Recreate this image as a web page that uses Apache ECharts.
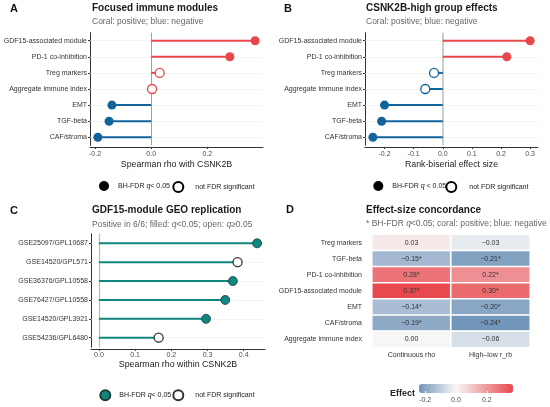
<!DOCTYPE html>
<html><head><meta charset="utf-8">
<script src="https://cdn.jsdelivr.net/npm/echarts@6/dist/echarts.min.js"></script>
<style>html,body{margin:0;padding:0;background:#fff}#c{width:550px;height:407px}</style>
</head><body><div id="c"></div>
<script>
// ---------- data ----------
const modules = ['GDF15-associated module','PD-1 co-inhibition','Treg markers','Aggregate immune index','EMT','TGF-beta','CAF/stroma'];
const rhoA = [0.37, 0.28, 0.03, 0.003, -0.14, -0.15, -0.19];
const sigA = [true, true, false, false, true, true, true];
const rrbB = [0.30, 0.22, -0.03, -0.06, -0.20, -0.21, -0.24];
const sigB = [true, true, false, false, true, true, true];
const geoSets = ['GSE25097/GPL10687','GSE14520/GPL571','GSE36376/GPL10558','GSE76427/GPL10558','GSE14520/GPL3921','GSE54236/GPL6480'];
const rhoC = [0.437, 0.383, 0.370, 0.349, 0.296, 0.165];
const sigC = [true, false, true, true, true, false];
const heatRows = ['Treg markers','TGF-beta','PD-1 co-inhibition','GDF15-associated module','EMT','CAF/stroma','Aggregate immune index'];
const heatCols = ['Continuous rho','High\u2013low r_rb'];
const ticksA = [-0.2, 0, 0.2];
const ticksB = [-0.2, -0.1, 0, 0.1, 0.2, 0.3];
const ticksC = [0, 0.1, 0.2, 0.3, 0.4];
const ticksEffect = [-0.2, 0, 0.2];

// ---------- styles ----------
const FONT = 'Liberation Sans';
const CORAL = '#E8474C', BLUE = '#11639A', TEAL = '#0F877E';
const LOW = [42, 96, 153], MID = [247, 247, 247], HIGH = [232, 73, 78];
const signColor = v => v >= 0 ? CORAL : BLUE;

function ext(vals, withZero) {
  let lo = Math.min(...vals), hi = Math.max(...vals);
  if (withZero) { lo = Math.min(lo, 0); hi = Math.max(hi, 0); }
  const pad = (hi - lo) * 0.05;
  return [lo - pad, hi + pad];
}
const [minA, maxA] = ext(rhoA, true);
const [minB, maxB] = ext(rrbB, true);
const [minC, maxC] = ext(rhoC, true);

// heat data
const heatData = [];
heatRows.forEach((r, ri) => {
  const k = modules.indexOf(r);
  heatData.push({ value: [0, ri, rhoA[k]], sig: sigA[k] });
  heatData.push({ value: [1, ri, rrbB[k]], sig: sigB[k] });
});
const heatVals = heatData.map(d => d.value[2]);
const effMin = Math.min(...heatVals), effMax = Math.max(...heatVals);
const maxAbs = Math.max(Math.abs(effMin), Math.abs(effMax));
function mix(a, b, t) { return 'rgb(' + a.map((x, i) => Math.round(x + (b[i] - x) * t)).join(',') + ')'; }
function grad2(v) { const t = v / maxAbs; return t < 0 ? mix(MID, LOW, -t) : mix(MID, HIGH, t); }
const colorStops = [];
for (let k = 0; k <= 60; k++) colorStops.push(grad2(effMin + (effMax - effMin) * k / 60));

// ---------- builders ----------
function valAxis(gi, min, max, ticks, name, offset, nameGap, margin) {
  return { type: 'value', gridIndex: gi, min, max, offset, splitLine: { show: false },
    axisLine: { show: true, onZero: false, lineStyle: { color: '#333', width: 1 } },
    axisTick: { show: true, customValues: ticks, length: 2, lineStyle: { color: '#333' } },
    axisLabel: { customValues: ticks, fontSize: 7, color: '#4d4d4d', margin, fontFamily: FONT, formatter: v => v.toFixed(1) },
    name, nameLocation: 'middle', nameGap, nameTextStyle: { fontSize: 8.8, color: '#222', fontFamily: FONT } };
}
function catAxis(gi, cats) {
  return { type: 'category', gridIndex: gi, data: cats, inverse: true,
    axisLine: { show: true, onZero: false, lineStyle: { color: '#333', width: 1 } },
    axisTick: { show: true, alignWithLabel: true, length: 2, lineStyle: { color: '#333' } },
    axisLabel: { fontSize: 7, color: '#333', margin: 3, fontFamily: FONT },
    splitLine: { show: false } };
}
function lolli(gi, cats, vals, sigs, o) {
  const guide = { type: 'scatter', xAxisIndex: gi, yAxisIndex: gi, data: [], z: 1, silent: true,
    markLine: { z: 1, silent: true, symbol: 'none', animation: false, label: { show: false },
      data: cats.map((c, i) => ({ yAxis: i, lineStyle: { color: '#EDEDED', width: 0.6, type: 'solid' } }))
        .concat([{ xAxis: 0, lineStyle: { color: o.zeroColor, width: o.zeroWidth, type: 'solid' } }]) } };
  const bar = { type: 'bar', xAxisIndex: gi, yAxisIndex: gi, barWidth: 2, silent: true, z: 6, animation: false,
    data: vals.map(v => ({ value: v, itemStyle: { color: o.line(v) } })) };
  const pts = { type: 'scatter', xAxisIndex: gi, yAxisIndex: gi, symbol: 'circle', silent: true, z: 7, animation: false,
    data: vals.map((v, i) => sigs[i]
      ? { value: [v, cats[i]], symbolSize: o.size, itemStyle: { opacity: 1, color: o.fill(v), borderColor: o.border(v), borderWidth: o.bw } }
      : { value: [v, cats[i]], symbolSize: o.size, itemStyle: { opacity: 1, color: '#fff', borderColor: o.open(v), borderWidth: 1.3 } }) };
  return [guide, bar, pts];
}
function T(text, left, cy, size, weight, color, rich) {
  return { text, left, top: cy - size / 2, padding: 0,
    textStyle: { fontSize: size, fontWeight: weight, color, fontFamily: FONT, rich } };
}
const italic = { i: { fontStyle: 'italic', fontSize: 8.5, color: '#666', fontFamily: FONT } };
function L(left, cy, w, name, text) {
  return { left, top: cy - 5, padding: 0, itemWidth: w, itemHeight: 10, icon: 'circle', selectedMode: false,
    data: [name], formatter: () => text,
    textStyle: { fontSize: 7, color: '#222', fontFamily: FONT, rich: { i: { fontStyle: 'italic', fontSize: 7, color: '#222', fontFamily: FONT } } } };
}

const series = [].concat(
  lolli(0, modules, rhoA, sigA, { line: signColor, fill: signColor, border: signColor, open: signColor, bw: 0, size: 9, zeroColor: '#A0A0A0', zeroWidth: 1 }),
  lolli(1, modules, rrbB, sigB, { line: signColor, fill: signColor, border: signColor, open: signColor, bw: 0, size: 9, zeroColor: '#BDBDBD', zeroWidth: 1.5 }),
  lolli(2, geoSets, rhoC, sigC, { line: () => TEAL, fill: () => TEAL, border: () => '#1d3b3a', open: () => '#333', bw: 0.8, size: 9, zeroColor: '#BDBDBD', zeroWidth: 1.3 })
);
const heatIndex = series.length;
series.push({ type: 'heatmap', xAxisIndex: 3, yAxisIndex: 3, data: heatData, silent: true, animation: false,
  itemStyle: { borderColor: '#fff', borderWidth: 1.6 },
  label: { show: true, fontSize: 7, color: '#333', fontFamily: FONT,
    formatter: p => (p.data.value[2] < 0 ? '\u2212' : '') + Math.abs(p.data.value[2]).toFixed(2) + (p.data.sig ? '*' : '') } });
series.push({ type: 'scatter', name: 'sigBlack', xAxisIndex: 0, yAxisIndex: 0, data: [], itemStyle: { opacity: 1, color: '#000' } });
series.push({ type: 'scatter', name: 'nsBlack', xAxisIndex: 0, yAxisIndex: 0, data: [], itemStyle: { opacity: 1, color: '#fff', borderColor: '#000', borderWidth: 1.2 } });
series.push({ type: 'scatter', name: 'sigTeal', xAxisIndex: 0, yAxisIndex: 0, data: [], itemStyle: { opacity: 1, color: TEAL, borderColor: '#1d3b3a', borderWidth: 1 } });
series.push({ type: 'scatter', name: 'nsTeal', xAxisIndex: 0, yAxisIndex: 0, data: [], itemStyle: { opacity: 1, color: '#fff', borderColor: '#333', borderWidth: 1.2 } });

const option = {
  animation: false,
  backgroundColor: '#fff',
  textStyle: { fontFamily: FONT },
  title: [
    T('A', 10, 9.3, 11, 'bold', '#111'),
    T('Focused immune modules', 92, 8.3, 10, 'bold', '#1a1a1a'),
    T('Coral: positive; blue: negative', 92, 21.7, 8.5, 'normal', '#666'),
    T('B', 284, 9.3, 11, 'bold', '#111'),
    T('CSNK2B-high group effects', 366, 8.3, 10, 'bold', '#1a1a1a'),
    T('Coral: positive; blue: negative', 366, 21.7, 8.5, 'normal', '#666'),
    T('C', 10, 211, 11, 'bold', '#111'),
    T('GDF15-module GEO replication', 92, 210.7, 10, 'bold', '#1a1a1a'),
    T('Positive in 6/6; filled: {i|q}<0.05; open: {i|q}\u22650.05', 92, 224, 8.5, 'normal', '#666', italic),
    T('D', 286, 210, 11, 'bold', '#111'),
    T('Effect-size concordance', 366, 210, 10, 'bold', '#1a1a1a'),
    T('* BH-FDR {i|q}<0.05; coral: positive; blue: negative', 366, 223.3, 8.5, 'normal', '#666', italic),
    T('Effect', 390, 394, 9, 'bold', '#222')
  ],
  legend: [
    L(99, 186, 18, 'sigBlack', 'BH-FDR {i|q}< 0.05'),
    L(172.3, 186, 24, 'nsBlack', 'not FDR significant'),
    L(373.3, 186, 18, 'sigBlack', 'BH-FDR {i|q} < 0.05'),
    L(445.3, 186, 26, 'nsBlack', 'not FDR significant'),
    L(99.3, 394.3, 18, 'sigTeal', 'BH-FDR {i|q}< 0.05'),
    L(172.3, 394.3, 24, 'nsTeal', 'not FDR significant')
  ],
  grid: [
    { left: 90, top: 32.65, width: 173, height: 112.7 },
    { left: 365, top: 32.65, width: 173, height: 112.7 },
    { left: 91, top: 233.85, width: 174, height: 113.3 },
    { left: 372, top: 234.5, width: 158, height: 113 },
    { left: 419, top: 384, width: 94, height: 9 }
  ],
  xAxis: [
    valAxis(0, minA, maxA, ticksA, 'Spearman rho with CSNK2B', 1.65, 12.6, 4),
    valAxis(1, minB, maxB, ticksB, 'Rank-biserial effect size', 1.65, 12.6, 4),
    valAxis(2, minC, maxC, ticksC, 'Spearman rho within CSNK2B', 1.75, 11.6, 3),
    { type: 'category', gridIndex: 3, data: heatCols, axisLine: { show: false }, axisTick: { show: false },
      axisLabel: { fontSize: 7, color: '#333', margin: 4, fontFamily: FONT }, splitLine: { show: false } },
    { type: 'value', gridIndex: 4, min: effMin, max: effMax, z: 10, splitLine: { show: false },
      axisLine: { show: false },
      axisTick: { show: true, inside: true, customValues: ticksEffect, length: 2, lineStyle: { color: '#fff', width: 1 } },
      axisLabel: { customValues: ticksEffect, fontSize: 7, color: '#4d4d4d', margin: 3.5, fontFamily: FONT, formatter: v => v.toFixed(1) } }
  ],
  yAxis: [
    catAxis(0, modules),
    catAxis(1, modules),
    catAxis(2, geoSets),
    { type: 'category', gridIndex: 3, data: heatRows, inverse: true, axisLine: { show: false }, axisTick: { show: false },
      axisLabel: { fontSize: 7, color: '#333', margin: 10, fontFamily: FONT }, splitLine: { show: false } },
    { type: 'value', gridIndex: 4, show: false, min: 0, max: 1 }
  ],
  visualMap: {
    type: 'continuous', seriesIndex: heatIndex, dimension: 2, min: effMin, max: effMax,
    orient: 'horizontal', left: 419, top: 384, itemWidth: 9, itemHeight: 94, padding: 0,
    calculable: false, hoverLink: false, inRange: { color: colorStops }
  },
  series
};
const chart = echarts.init(document.getElementById('c'), null, { renderer: 'canvas' });
chart.setOption(option);
</script>
</body></html>
